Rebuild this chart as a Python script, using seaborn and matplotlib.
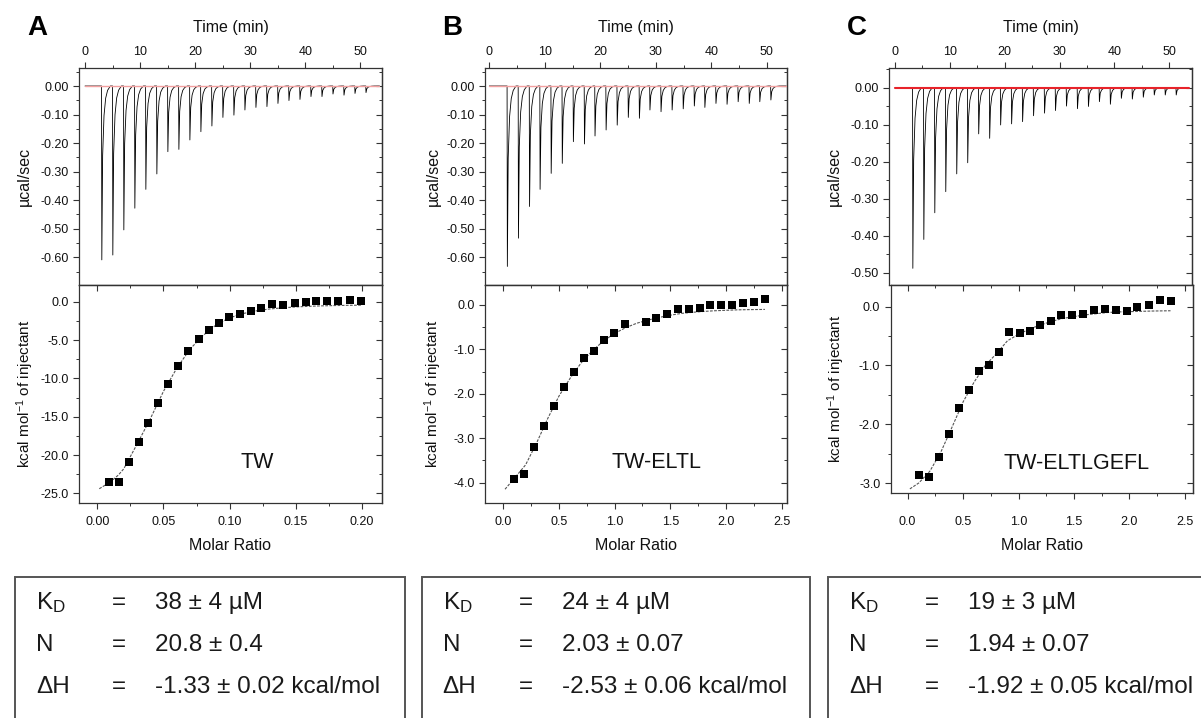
import matplotlib
matplotlib.use("Agg")
import matplotlib.pyplot as plt
from matplotlib.ticker import MultipleLocator, FormatStrFormatter, NullFormatter
from matplotlib.patches import Rectangle
import seaborn as sns
import pandas as pd

sns.set_theme(style="ticks")
plt.rcParams['font.family'] = ['Liberation Sans', 'DejaVu Sans']
plt.rcParams['axes.unicode_minus'] = False
plt.rcParams['mathtext.default'] = 'regular'

# ---------------- data ----------------
# raw thermograms: injection times (min) and peak heights (ucal/sec)
INJ_TIME_A = [3.0, 5.0, 7.0, 9.0, 11.0, 13.0, 15.0, 17.0, 19.0, 21.0, 23.0, 25.0, 27.0,
              29.0, 31.0, 33.0, 35.0, 37.0, 39.0, 41.0, 43.0, 45.0, 47.0, 49.0, 51.0]
PEAK_A = [-0.609, -0.592, -0.504, -0.428, -0.362, -0.308, -0.230, -0.222, -0.189, -0.160,
          -0.140, -0.110, -0.102, -0.084, -0.075, -0.072, -0.061, -0.051, -0.047, -0.037,
          -0.037, -0.028, -0.032, -0.026, -0.023]

INJ_TIME_B = [3.2, 5.2, 7.2, 9.1, 11.1, 13.1, 15.1, 17.1, 19.0, 21.0, 23.0, 25.0, 27.0,
              28.9, 30.9, 32.9, 34.9, 36.9, 38.8, 40.8, 42.8, 44.8, 46.8, 48.7, 50.7]
PEAK_B = [-0.632, -0.533, -0.422, -0.362, -0.306, -0.271, -0.195, -0.203, -0.175, -0.154,
          -0.137, -0.110, -0.113, -0.084, -0.090, -0.084, -0.080, -0.070, -0.075, -0.061,
          -0.064, -0.055, -0.061, -0.055, -0.049]

INJ_TIME_C = [3.2, 5.2, 7.2, 9.2, 11.2, 13.2, 15.2, 17.2, 19.2, 21.2, 23.2, 25.2, 27.2,
              29.2, 31.2, 33.2, 35.2, 37.2, 39.2, 41.2, 43.2, 45.2, 47.2, 49.2, 51.2]
PEAK_C = [-0.488, -0.410, -0.338, -0.281, -0.233, -0.203, -0.125, -0.137, -0.101, -0.098,
          -0.092, -0.076, -0.069, -0.062, -0.050, -0.057, -0.051, -0.038, -0.045, -0.029,
          -0.031, -0.026, -0.020, -0.020, -0.020]

# shape of one injection peak (offset in min, fraction of peak height)
PEAK_DT = [0.0, 0.05, 0.2, 0.45, 0.75, 1.1, 1.6]
PEAK_FRAC = [0.0, 1.0, 0.4, 0.17, 0.07, 0.025, 0.0]
RUN_END = 53.5
BASELINE_T = [0.0, 53.5]

# integrated heats: molar ratio vs kcal/mol of injectant
RATIO_A = [0.0088, 0.0161, 0.0237, 0.0313, 0.0386, 0.0462, 0.0537, 0.0610, 0.0689, 0.0767,
           0.0845, 0.0923, 0.0999, 0.1079, 0.1160, 0.1241, 0.1324, 0.1407, 0.1491, 0.1576,
           0.1657, 0.1738, 0.1821, 0.1907, 0.1992]
HEAT_A = [-23.5, -23.5, -20.96, -18.3, -15.8, -13.26, -10.7, -8.35, -6.43, -4.91,
          -3.70, -2.74, -2.04, -1.57, -1.22, -0.78, -0.26, -0.48, -0.13, -0.04,
          0.09, 0.09, 0.09, 0.22, 0.09]
FIT_X_A = [0.0015, 0.010, 0.016, 0.020, 0.030, 0.040, 0.050, 0.060, 0.070, 0.080, 0.090,
           0.100, 0.110, 0.120, 0.130, 0.140, 0.150, 0.160, 0.170, 0.180, 0.190, 0.200]
FIT_Y_A = [-24.4, -23.5, -22.6, -21.8, -18.6, -15.3, -11.7, -8.7, -6.2, -4.4, -3.0,
           -2.1, -1.55, -1.2, -0.95, -0.8, -0.68, -0.6, -0.54, -0.5, -0.47, -0.45]

RATIO_B = [0.099, 0.189, 0.278, 0.365, 0.455, 0.545, 0.632, 0.722, 0.814, 0.907, 0.997, 1.090,
           1.278, 1.374, 1.470, 1.566, 1.665, 1.763, 1.859, 1.958, 2.054, 2.153, 2.254, 2.353]
HEAT_B = [-3.92, -3.80, -3.19, -2.72, -2.27, -1.84, -1.50, -1.19, -1.04, -0.80, -0.64, -0.42,
          -0.38, -0.29, -0.21, -0.08, -0.10, -0.07, 0.0, 0.0, 0.0, 0.05, 0.07, 0.13]
FIT_X_B = [0.015, 0.1, 0.2, 0.3, 0.4, 0.5, 0.6, 0.7, 0.8, 0.9, 1.0, 1.1, 1.2, 1.3, 1.4, 1.5,
           1.6, 1.7, 1.8, 1.9, 2.0, 2.1, 2.2, 2.35]
FIT_Y_B = [-4.15, -3.9, -3.6, -3.1, -2.55, -2.05, -1.65, -1.3, -1.03, -0.81, -0.64, -0.51,
           -0.41, -0.34, -0.28, -0.23, -0.19, -0.165, -0.145, -0.13, -0.12, -0.11, -0.105, -0.1]

RATIO_C = [0.105, 0.195, 0.285, 0.376, 0.463, 0.553, 0.643, 0.733, 0.823, 0.916, 1.010, 1.103,
           1.196, 1.289, 1.385, 1.481, 1.581, 1.680, 1.779, 1.878, 1.974, 2.070, 2.172, 2.275, 2.374]
HEAT_C = [-2.87, -2.89, -2.55, -2.17, -1.73, -1.42, -1.10, -1.00, -0.78, -0.435, -0.45, -0.42,
          -0.32, -0.25, -0.15, -0.15, -0.12, -0.05, -0.04, -0.05, -0.07, 0.0, 0.02, 0.12, 0.10]
FIT_X_C = [0.02, 0.1, 0.2, 0.3, 0.4, 0.5, 0.6, 0.7, 0.8, 0.9, 1.0, 1.1, 1.2, 1.3, 1.4, 1.5,
           1.6, 1.7, 1.8, 1.9, 2.0, 2.1, 2.2, 2.37]
FIT_Y_C = [-3.1, -3.0, -2.8, -2.47, -2.05, -1.62, -1.28, -1.0, -0.8, -0.58, -0.47, -0.38,
           -0.31, -0.25, -0.2, -0.17, -0.14, -0.12, -0.1, -0.09, -0.085, -0.08, -0.075, -0.07]

SAMPLES = ['TW', 'TW-ELTL', 'TW-ELTLGEFL']
KD_TEXT = ['38 ± 4 µM', '24 ± 4 µM', '19 ± 3 µM']
N_TEXT = ['20.8 ± 0.4', '2.03 ± 0.07', '1.94 ± 0.07']
DH_TEXT = ['-1.33 ± 0.02 kcal/mol', '-2.53 ± 0.06 kcal/mol', '-1.92 ± 0.05 kcal/mol']

# ---------------- layout (pixels) ----------------
W, H = 1201, 718
EDGE = '#333333'


def px_rect(x0, y0, x1, y1):
    return [x0 / W, 1 - y1 / H, (x1 - x0) / W, (y1 - y0) / H]


def build_trace(times, peaks):
    t, y = [0.0], [0.0]
    for ti, pk in zip(times, peaks):
        for dt, fr in zip(PEAK_DT, PEAK_FRAC):
            t.append(ti + dt)
            y.append(pk * fr)
    t.append(RUN_END)
    y.append(0.0)
    return pd.DataFrame({'time': t, 'power': y})


def style_axes(ax):
    for s in ax.spines.values():
        s.set_color(EDGE)
        s.set_linewidth(0.9)
    ax.set_facecolor('white')


def tick_style(ax, axis, pad=3.5):
    ax.tick_params(axis=axis, which='major', length=4, width=0.8, color=EDGE,
                   labelsize=9, pad=pad, direction='out', labelcolor='#111111')
    ax.tick_params(axis=axis, which='minor', length=2.5, width=0.7, color=EDGE, direction='out')


def mirror(ax, side, major, minor):
    if side in ('left', 'right'):
        sec = ax.secondary_yaxis(side)
        sec.yaxis.set_major_locator(MultipleLocator(major))
        sec.yaxis.set_minor_locator(MultipleLocator(minor))
        sec.yaxis.set_major_formatter(NullFormatter())
        axis = 'y'
    else:
        sec = ax.secondary_xaxis(side)
        sec.xaxis.set_major_locator(MultipleLocator(major))
        sec.xaxis.set_minor_locator(MultipleLocator(minor))
        sec.xaxis.set_major_formatter(NullFormatter())
        axis = 'x'
    sec.tick_params(axis=axis, which='major', length=4, width=0.8, color=EDGE, direction='in')
    sec.tick_params(axis=axis, which='minor', length=2.5, width=0.7, color=EDGE, direction='in')
    for s in sec.spines.values():
        s.set_color(EDGE)
        s.set_linewidth(0.9)


panels = [
    dict(letter='A', letter_x=37, top=(79.3, 68.3, 381.7, 285), bot=(79.3, 285, 381.7, 503),
         tlim=(-1.04, 53.9), tylim=(-0.697, 0.062), times=INJ_TIME_A, peaks=PEAK_A,
         base_color='#f2a0a0', base_lw=1.0,
         xr=RATIO_A, yh=HEAT_A, fx=FIT_X_A, fy=FIT_Y_A,
         bxlim=(-0.0136, 0.215), bylim=(-26.26, 2.18), bxmaj=0.05, bxfmt='%.2f',
         bymaj=5.0, byfmt='%.1f', lab_x=-0.18, name_xy=(0.587, 0.187), xpad=5.5, box=(15, 405)),
    dict(letter='B', letter_x=452, top=(485, 68.3, 786.7, 285), bot=(485, 285, 786.7, 503),
         tlim=(-0.78, 53.6), tylim=(-0.697, 0.062), times=INJ_TIME_B, peaks=PEAK_B,
         base_color='#f2a0a0', base_lw=1.0,
         xr=RATIO_B, yh=HEAT_B, fx=FIT_X_B, fy=FIT_Y_B,
         bxlim=(-0.165, 2.546), bylim=(-4.46, 0.45), bxmaj=0.5, bxfmt='%.1f',
         bymaj=1.0, byfmt='%.1f', lab_x=-0.172, name_xy=(0.567, 0.187), xpad=5.5, box=(421.7, 810)),
    dict(letter='C', letter_x=857, top=(889.3, 68.3, 1191.7, 285), bot=(890.7, 285, 1192.7, 493),
         tlim=(-1.04, 54.07), tylim=(-0.533, 0.052), times=INJ_TIME_C, peaks=PEAK_C,
         base_color='#e8232a', base_lw=1.5,
         xr=RATIO_C, yh=HEAT_C, fx=FIT_X_C, fy=FIT_Y_C,
         bxlim=(-0.153, 2.57), bylim=(-3.17, 0.368), bxmaj=0.5, bxfmt='%.1f',
         bymaj=1.0, byfmt='%.1f', lab_x=-0.18, name_xy=(0.617, 0.143), xpad=12.5, box=(828, 1215)),
]

fig = plt.figure(figsize=(W / 100, H / 100), dpi=100)
fig.patch.set_facecolor('white')

for i, p in enumerate(panels):
    # ---- raw thermogram ----
    ax = fig.add_axes(px_rect(*p['top']))
    style_axes(ax)
    trace = build_trace(p['times'], p['peaks'])
    sns.lineplot(data=trace, x='time', y='power', ax=ax, estimator=None, sort=False,
                 color='black', lw=0.6, zorder=2)
    sns.lineplot(x=BASELINE_T, y=[0.0, 0.0], ax=ax, color=p['base_color'],
                 lw=p['base_lw'], zorder=3)
    ax.set_xlim(*p['tlim'])
    ax.set_ylim(*p['tylim'])
    ax.xaxis.tick_top()
    ax.xaxis.set_label_position('top')
    ax.xaxis.set_major_locator(MultipleLocator(10))
    ax.xaxis.set_minor_locator(MultipleLocator(5))
    ax.yaxis.set_major_locator(MultipleLocator(0.1))
    ax.yaxis.set_minor_locator(MultipleLocator(0.05))
    ax.yaxis.set_major_formatter(FormatStrFormatter('%.2f'))
    tick_style(ax, 'x', pad=3.5)
    tick_style(ax, 'y', pad=3.5)
    ax.tick_params(axis='x', which='both', bottom=False, top=True)
    ax.tick_params(axis='y', which='both', right=False, left=True)
    mirror(ax, 'right', 0.1, 0.05)
    ax.set_xlabel('Time (min)', fontsize=11.5, color='#111111')
    ax.xaxis.label.set_va('center')
    ax.xaxis.set_label_coords(0.5, 1.19)
    ax.set_ylabel('µcal/sec', fontsize=11.5, color='#111111')
    ax.yaxis.label.set_va('center')
    ax.yaxis.set_label_coords(p['lab_x'], 0.5)

    # ---- binding isotherm ----
    bx = fig.add_axes(px_rect(*p['bot']))
    style_axes(bx)
    sns.lineplot(x=p['fx'], y=p['fy'], ax=bx, estimator=None, sort=False,
                 color='#555555', lw=0.8, linestyle=(0, (2.5, 1.2)), zorder=2)
    sns.scatterplot(x=p['xr'], y=p['yh'], ax=bx, marker='s', s=34, color='black',
                    edgecolor='black', linewidth=0, zorder=3)
    bx.set_xlim(*p['bxlim'])
    bx.set_ylim(*p['bylim'])
    bx.xaxis.set_major_locator(MultipleLocator(p['bxmaj']))
    bx.xaxis.set_minor_locator(MultipleLocator(p['bxmaj'] / 2))
    bx.xaxis.set_major_formatter(FormatStrFormatter(p['bxfmt']))
    bx.yaxis.set_major_locator(MultipleLocator(p['bymaj']))
    bx.yaxis.set_minor_locator(MultipleLocator(p['bymaj'] / 2))
    bx.yaxis.set_major_formatter(FormatStrFormatter(p['byfmt']))
    tick_style(bx, 'x', pad=p['xpad'])
    tick_style(bx, 'y', pad=3.5)
    bx.tick_params(axis='x', which='both', top=False, bottom=True)
    bx.tick_params(axis='y', which='both', right=False, left=True)
    mirror(bx, 'top', p['bxmaj'], p['bxmaj'] / 2)
    mirror(bx, 'right', p['bymaj'], p['bymaj'] / 2)
    bx.set_xlabel('Molar Ratio', fontsize=11.5, color='#111111')
    bx.xaxis.label.set_va('center')
    bot_h = p['bot'][3] - p['bot'][1]
    bx.xaxis.set_label_coords(0.5, (p['bot'][3] - 545) / bot_h)
    bx.set_ylabel('kcal mol$^{-1}$ of injectant', fontsize=11, color='#111111')
    bx.yaxis.label.set_va('center')
    bx.yaxis.set_label_coords(p['lab_x'], 0.5)
    bx.text(p['name_xy'][0], p['name_xy'][1], SAMPLES[i], transform=bx.transAxes,
            ha='center', va='center', fontsize=15.5, color='#111111')

    # panel letter
    fig.text(p['letter_x'] / W, 1 - 28 / H, p['letter'], fontsize=20, fontweight='bold',
             ha='center', va='center', color='black')

    # ---- fit results box ----
    x0, x1 = p['box']
    fig.patches.append(Rectangle((x0 / W, -0.02), (x1 - x0) / W, (718 - 577) / H + 0.02,
                                 transform=fig.transFigure, fill=False,
                                 edgecolor='#555555', lw=1.4))
    rows = [('K$_D$', KD_TEXT[i]), ('N', N_TEXT[i]), ('ΔH', DH_TEXT[i])]
    for (lab, val), yc in zip(rows, [603, 645, 687]):
        fig.text((x0 + 21) / W, 1 - yc / H, lab, fontsize=17.5, ha='left', va='center',
                 color='#1a1a1a')
        fig.text((x0 + 104) / W, 1 - yc / H, '=', fontsize=17.5, ha='center', va='center',
                 color='#1a1a1a')
        fig.text((x0 + 140) / W, 1 - yc / H, val, fontsize=17.5, ha='left', va='center',
                 color='#1a1a1a')

fig.savefig('out.png', dpi=100, facecolor='white')
